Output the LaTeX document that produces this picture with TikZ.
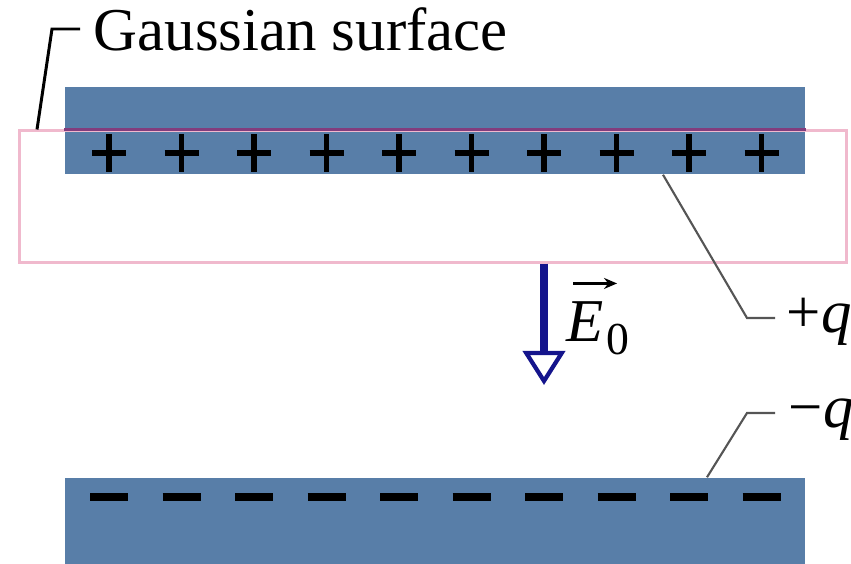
\documentclass[tikz,border=0pt]{standalone}
\usepackage{fontspec}
\setmainfont{Liberation Serif}
\usetikzlibrary{arrows.meta, positioning, calc}
\definecolor{platecolor}{RGB}{88,126,168}
\definecolor{gausspink}{RGB}{240,185,205}
\definecolor{gaussedge}{RGB}{130,60,125}
\definecolor{fieldblue}{RGB}{20,20,140}
\definecolor{leadergray}{RGB}{85,85,85}

\begin{document}
\begin{tikzpicture}[x=0.01cm, y=-0.01cm,
    plate/.style={fill=platecolor, minimum width=7.4cm, inner sep=0pt},
    gauss/.style={draw=gausspink, line width=0.85pt, minimum width=8.26cm,
                  minimum height=1.31cm, inner sep=0pt},
    leader/.style={draw=leadergray, line width=0.6pt},
    txt/.style={font=\fontsize{17.3}{20}\selectfont, inner sep=0pt},
    charge/.style={line width=1.6pt},
    field/.style={draw=fieldblue, line width=2.2pt,
                  -{Triangle[open, length=0.34cm, width=0.42cm, line width=1.2pt]}}
]
    \useasboundingbox (0,0) rectangle (851,564);

    % plates
    \node[plate, minimum height=0.87cm] (topplate) at (435,130.5) {};
    \node[plate, minimum height=0.92cm] (botplate) at (435,524) {};

    % charges
    \foreach \i in {0,...,9} {
        \draw[charge] ({109+72.5*\i-17},153) -- ++(34,0)
                      ({109+72.5*\i},134) -- ++(0,38);
        \draw[line width=2.2pt] ({109+72.5*\i-19},497) -- ++(38,0);
    }

    % gaussian surface
    \node[gauss] (surface) at (433,196.5) {};
    \draw[draw=gaussedge, line width=0.85pt] (topplate.west |- surface.north)
        -- (topplate.east |- surface.north);

    % labels
    \node[txt, anchor=base west] (gausslbl) at (93,51) {Gaussian surface};
    \node[txt, anchor=base west] (pluslbl) at (786,333) {+\textit{q}};
    \node[txt, anchor=base west] (minuslbl) at (788,428) {−\textit{q}};
    \node[txt, anchor=base west] (efield) at (566,341)
        {\textit{E}\kern0.05em\raisebox{-0.22em}{\fontsize{13}{13}\selectfont 0}};
    \draw[line width=0.8pt, -{Stealth[length=0.13cm, width=0.11cm]}]
        ([xshift=2]efield.north west) ++(0,-17) -- ++(44,0);

    % leaders
    \coordinate (gaussend) at (80,29);
    \coordinate (plusend) at (775,318);
    \coordinate (minusend) at (775,413);
    \draw[line width=0.85pt] (surface.north west -| 37,0) -- (52,29) -- (gaussend);
    \draw[leader] (topplate.south -| 663,0) -- (747,318) -- (plusend);
    \draw[leader] (botplate.north -| 707,0) -- (747,413) -- (minusend);

    % field arrow
    \coordinate (fieldtip) at (544,385);
    \draw[field] (surface.south -| fieldtip) -- (fieldtip);
\end{tikzpicture}
\end{document}
